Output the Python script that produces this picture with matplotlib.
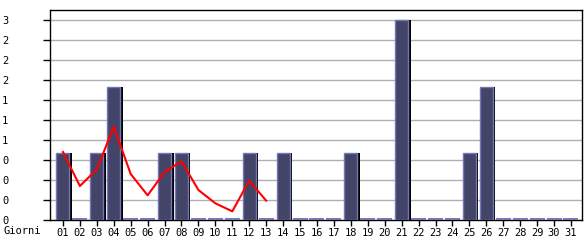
import matplotlib
matplotlib.use("Agg")
import matplotlib.pyplot as plt
import numpy as np

days = [f"{d:02d}" for d in range(1, 32)]
visits = [1, 0, 1, 2, 0, 0, 1, 1, 0, 0, 0, 1, 0, 1, 0, 0, 0, 1, 0, 0,
          3, 0, 0, 0, 1, 2, 0, 0, 0, 0, 0]
trend_days = list(range(1, 14))
trend = [1.02, 0.51, 0.76, 1.40, 0.69, 0.37, 0.72, 0.88, 0.45, 0.25, 0.13, 0.59, 0.29]
yticks = [0, 0.3, 0.6, 0.9, 1.2, 1.5, 1.8, 2.1, 2.4, 2.7, 3.0]
ytick_labels = ["0", "0", "0", "0", "1", "1", "1", "2", "2", "2", "3"]

W, H = 585, 240
fig = plt.figure(figsize=(W / 100, H / 100), dpi=100)
ax = fig.add_axes([50 / W, (H - 220) / H, (582 - 50) / W, (220 - 10) / H])

x = np.arange(1, 32)
vals = np.array(visits, dtype=float)
px = (31.65 - 0.235) / 532.0  # data units per pixel in x
py = 3.15 / 210.0
width = 13 * px
shadow_off = 2.5 * px

ax.bar(x + shadow_off, vals, width=width, color="black", zorder=3)
ax.bar(x, vals, width=width, color="#424468", edgecolor="#7676b4",
       linewidth=1.0, zorder=4)
zero = vals == 0
ax.hlines(np.full(zero.sum(), 1.2 * py), x[zero] - width / 2 - px, x[zero] + width / 2 + px,
          color="#7676b4", lw=1.4, zorder=4)
ax.plot(trend_days, trend, color="#ff0000", lw=1.5, zorder=5)

ax.set_xlim(0.235, 31.65)
ax.set_ylim(0, 3.15)
ax.set_yticks(yticks)
ax.set_yticklabels(ytick_labels)
ax.set_xticks(x)
ax.set_xticklabels(days)
ax.yaxis.grid(True, color="#b0b0b0", lw=1.0, zorder=0)
ax.set_axisbelow(True)

for s in ax.spines.values():
    s.set_linewidth(1.0)
    s.set_color("black")

font = dict(family="DejaVu Sans Mono", size=7.5)
ax.tick_params(axis="y", length=5, width=1, pad=29.5, labelsize=7.5)
ax.tick_params(axis="x", length=4, width=1, pad=2, labelsize=7.5)
for lab in ax.get_yticklabels():
    lab.set_horizontalalignment("left")
    lab.set_fontfamily("DejaVu Sans Mono")
for lab in ax.get_xticklabels():
    lab.set_fontfamily("DejaVu Sans Mono")

fig.text(3 / W, 1 - 231 / H, "Giorni", ha="left", va="center", **font)

fig.savefig("out.png", dpi=100)
